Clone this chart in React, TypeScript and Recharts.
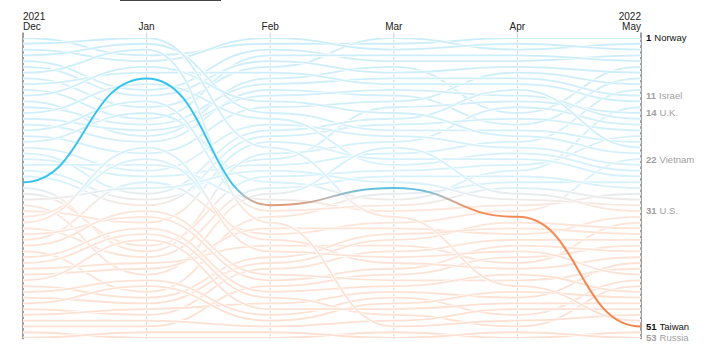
import React from 'react';
import { LineChart, Line, XAxis, YAxis, ReferenceLine } from 'recharts';

// months along the top, years shown over the first and last column
const MONTHS = ['Dec', 'Jan', 'Feb', 'Mar', 'Apr', 'May'];
const YEARS = ['2021', '', '', '', '', '2022'];

// ranking order for each month (index 0 = rank 1)
const DEC_ORDER = ['NOR', 'CHN', 'IRL', 'NZL', 'CHE', 'FIN', 'HKG', 'NLD', 'ARE', 'DNK', 'KOR', 'SWE', 'ISR', 'SAU', 'ESP', 'CAN', 'JPN', 'BEL', 'SGP', 'PRT', 'DEU', 'AUS', 'CHL', 'GBR', 'AUT', 'TWN', 'FRA', 'ITA', 'TUR', 'USA', 'CZE', 'EGY', 'IDN', 'POL', 'MYS', 'VNM', 'IND', 'GRC', 'BGD', 'PAK', 'BRA', 'MEX', 'NGA', 'COL', 'ZAF', 'ARG', 'PHL', 'PER', 'THA', 'IRN', 'ROU', 'HUN', 'RUS'];
const JAN_ORDER = ['CHN', 'NZL', 'HKG', 'NOR', 'IRL', 'KOR', 'ARE', 'TWN', 'SAU', 'CHE', 'FIN', 'JPN', 'NLD', 'SGP', 'DNK', 'ISR', 'ESP', 'SWE', 'CAN', 'IDN', 'BEL', 'EGY', 'CHL', 'PRT', 'AUS', 'VNM', 'TUR', 'DEU', 'GBR', 'AUT', 'IND', 'MYS', 'CZE', 'BGD', 'PAK', 'NGA', 'ITA', 'FRA', 'POL', 'BRA', 'MEX', 'USA', 'ZAF', 'PHL', 'GRC', 'COL', 'ARG', 'THA', 'PER', 'IRN', 'ROU', 'RUS', 'HUN'];
const FEB_ORDER = ['IRL', 'NOR', 'CHE', 'DNK', 'FIN', 'NLD', 'ARE', 'SWE', 'ISR', 'CAN', 'ESP', 'KOR', 'BEL', 'NZL', 'SAU', 'PRT', 'DEU', 'AUT', 'CZE', 'CHN', 'FRA', 'GBR', 'AUS', 'TUR', 'ITA', 'SGP', 'POL', 'USA', 'CHL', 'TWN', 'JPN', 'GRC', 'HKG', 'MEX', 'VNM', 'EGY', 'BRA', 'IDN', 'COL', 'ARG', 'PER', 'IND', 'MYS', 'ROU', 'BGD', 'PAK', 'THA', 'NGA', 'ZAF', 'PHL', 'IRN', 'RUS', 'HUN'];
const MAR_ORDER = ['NLD', 'NOR', 'IRL', 'DNK', 'CHE', 'SWE', 'FIN', 'ISR', 'ARE', 'ESP', 'CAN', 'BEL', 'GBR', 'KOR', 'DEU', 'AUT', 'NZL', 'PRT', 'FRA', 'USA', 'AUS', 'CZE', 'SAU', 'ITA', 'POL', 'TUR', 'TWN', 'GRC', 'SGP', 'JPN', 'CHL', 'CHN', 'VNM', 'MEX', 'COL', 'ARG', 'BRA', 'PER', 'IDN', 'EGY', 'MYS', 'ROU', 'IND', 'BGD', 'THA', 'ZAF', 'PHL', 'NGA', 'PAK', 'IRN', 'HKG', 'HUN', 'RUS'];
const APR_ORDER = ['NOR', 'IRL', 'NLD', 'DNK', 'CHE', 'FIN', 'BEL', 'ISR', 'ARE', 'DEU', 'ESP', 'GBR', 'FRA', 'SWE', 'AUT', 'CAN', 'NZL', 'KOR', 'AUS', 'PRT', 'SAU', 'CZE', 'ITA', 'SGP', 'POL', 'GRC', 'JPN', 'USA', 'TUR', 'CHL', 'VNM', 'TWN', 'ARG', 'COL', 'MEX', 'PER', 'MYS', 'IDN', 'ROU', 'BRA', 'EGY', 'BGD', 'IND', 'CHN', 'PHL', 'THA', 'NGA', 'IRN', 'ZAF', 'HKG', 'PAK', 'RUS', 'HUN'];
const MAY_ORDER = ['NOR', 'NLD', 'IRL', 'CHE', 'DNK', 'SWE', 'FIN', 'CAN', 'BEL', 'AUS', 'ISR', 'ARE', 'SGP', 'GBR', 'ESP', 'FRA', 'AUT', 'ITA', 'NZL', 'DEU', 'KOR', 'VNM', 'PRT', 'SAU', 'CZE', 'GRC', 'POL', 'CHL', 'JPN', 'TUR', 'USA', 'MEX', 'BRA', 'ARG', 'COL', 'PER', 'ROU', 'MYS', 'EGY', 'THA', 'IND', 'IDN', 'ZAF', 'PAK', 'BGD', 'PHL', 'NGA', 'IRN', 'HKG', 'CHN', 'TWN', 'HUN', 'RUS'];

const ORDERS = [DEC_ORDER, JAN_ORDER, FEB_ORDER, MAR_ORDER, APR_ORDER, MAY_ORDER];

const LABELS: Record<string, string> = {
  NOR: 'Norway',
  ISR: 'Israel',
  GBR: 'U.K.',
  VNM: 'Vietnam',
  USA: 'U.S.',
  TWN: 'Taiwan',
  RUS: 'Russia',
};
const DARK_LABELS = ['NOR', 'TWN'];
const HIGHLIGHT = 'TWN';

const data = MONTHS.map((month, i) => {
  const row: Record<string, string | number> = { month };
  ORDERS[i].forEach((code, idx) => {
    row[code] = idx + 1;
  });
  return row;
});

const countries = MAY_ORDER.filter(c => c !== HIGHLIGHT);

function MonthTick(props: any) {
  const { x, payload } = props;
  const i = MONTHS.indexOf(payload.value);
  const anchor = i === 0 ? 'start' : i === MONTHS.length - 1 ? 'end' : 'middle';
  return (
    <g>
      {YEARS[i] && (
        <text x={x} y={19.5} textAnchor={anchor} fontSize={10} fill="#222">
          {YEARS[i]}
        </text>
      )}
      <text x={x} y={29.5} textAnchor={anchor} fontSize={10} fill="#222">
        {payload.value}
      </text>
    </g>
  );
}

const endLabel = (code: string) => (p: any) => {
  if (p.index !== MONTHS.length - 1) return null;
  const x = p.x ?? p.viewBox?.x;
  const y = p.y ?? p.viewBox?.y;
  const dark = DARK_LABELS.includes(code);
  return (
    <text key={code} x={x + 5} y={y + 3.4} fontSize={9.5} fill={dark ? '#111' : '#a0a0a0'}>
      <tspan fontWeight={700}>{p.value}</tspan>
      <tspan dx={3}>{LABELS[code]}</tspan>
    </text>
  );
};

export default function App() {
  return (
    <div style={{ position: 'absolute', left: 0, top: 0, width: 720, height: 358, background: '#fff', fontFamily: 'Liberation Sans, Arial, sans-serif' }}>
      <div style={{ position: 'absolute', left: 120, top: 0, width: 101, height: 1, background: '#444' }} />
      <LineChart width={720} height={358} data={data} margin={{ top: 8, right: 79, bottom: 20, left: 23 }}>
        <defs>
          <linearGradient id="rankFade" gradientUnits="userSpaceOnUse" x1="0" y1="38" x2="0" y2="338">
            <stop offset="0" stopColor="#cbedf9" />
            <stop offset="0.49" stopColor="#d8f2fb" />
            <stop offset="0.53" stopColor="#ebebeb" />
            <stop offset="0.57" stopColor="#fde5d9" />
            <stop offset="1" stopColor="#fde0d1" />
          </linearGradient>
          <linearGradient id="rankBold" gradientUnits="userSpaceOnUse" x1="0" y1="38" x2="0" y2="338">
            <stop offset="0" stopColor="#2fc1ef" />
            <stop offset="0.49" stopColor="#3cc3ee" />
            <stop offset="0.53" stopColor="#b7b9ba" />
            <stop offset="0.57" stopColor="#f58a55" />
            <stop offset="1" stopColor="#f5824a" />
          </linearGradient>
        </defs>
        <XAxis
          dataKey="month"
          orientation="top"
          height={30}
          interval={0}
          axisLine={false}
          tickLine={false}
          tick={<MonthTick />}
        />
        <YAxis type="number" domain={[1, 53]} reversed hide allowDataOverflow />
        {MONTHS.map((m, i) => (
          <ReferenceLine
            key={m}
            segment={[{ x: m, y: 0.05 }, { x: m, y: 53.2 }]}
            stroke={i === 0 || i === MONTHS.length - 1 ? '#808080' : '#d4d4d4'}
            strokeWidth={i === 0 || i === MONTHS.length - 1 ? 1.5 : 1}
            ifOverflow="visible"
          />
        ))}
        {countries.flatMap(code => [
          <Line
            key={code + '-halo'}
            dataKey={code}
            type="bumpX"
            stroke="#ffffff"
            strokeWidth={3.2}
            dot={false}
            activeDot={false}
            isAnimationActive={false}
          />,
          <Line
            key={code}
            dataKey={code}
            type="bumpX"
            stroke="url(#rankFade)"
            strokeWidth={1.8}
            dot={false}
            activeDot={false}
            isAnimationActive={false}
            label={LABELS[code] ? endLabel(code) : false}
          />,
        ])}
        <Line
          dataKey={HIGHLIGHT}
          type="bumpX"
          stroke="url(#rankBold)"
          strokeWidth={2}
          dot={false}
          activeDot={false}
          isAnimationActive={false}
          label={endLabel(HIGHLIGHT)}
        />
      </LineChart>
    </div>
  );
}
